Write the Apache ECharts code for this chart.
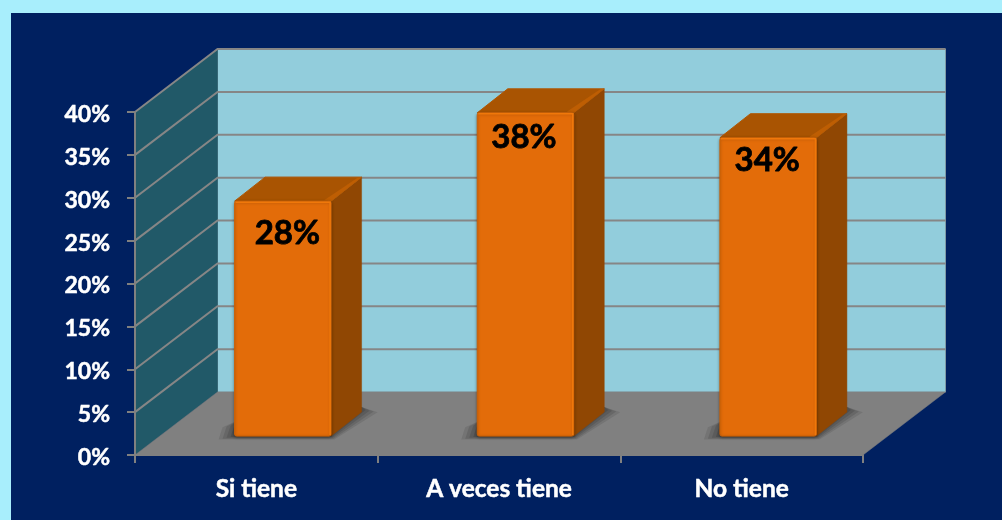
<!DOCTYPE html>
<html>
<head>
<meta charset="utf-8">
<style>html,body{margin:0;padding:0;background:#A6EDFB}#c{width:1002px;height:520px}</style>
<script src="https://cdn.jsdelivr.net/npm/echarts@6/dist/echarts.min.js"></script>
</head>
<body>
<div id="c"></div>
<script>
const categories = ["Si tiene", "A veces tiene", "No tiene"];
const barValues = [27.4, 37.7, 34.8];
const barLabels = ["28%", "38%", "34%"];
const wallTicks = [0, 5, 10, 15, 20, 25, 30, 35, 40];

// layout of the fake 3D room and boxes
const ROOM_DX = 82.5, ROOM_DY = -63;
const BAR_FX = 26.5, BAR_FY = -18.9;   // where a box's front face stands inside the room
const BAR_W = 96.5, BAR_DX = 30.5, BAR_DY = -24;
const LABEL_NUDGE = [[4.5, 32], [-1.5, 25], [-1, 23]];
const SHADOW_RINGS = [[16, 0.14], [12, 0.16], [8, 0.18], [4, 0.22]];
const FONT = 'Lato, "Open Sans", sans-serif';

function poly(points, style, z2) {
  return { type: 'polygon', shape: { points: points }, style: style, z2: z2 || 0, silent: true };
}

function renderRoom(params, api) {
  const t = api.value(1);
  const cs = params.coordSys;
  const y = api.coord([0, t])[1];
  const xL = cs.x, xR = cs.x + cs.width;
  const children = [];
  if (params.dataIndex === 0) {
    const top = cs.y, bot = cs.y + cs.height;
    children.push(poly([[xL + ROOM_DX, top + ROOM_DY], [xR + ROOM_DX, top + ROOM_DY], [xR + ROOM_DX, bot + ROOM_DY], [xL + ROOM_DX, bot + ROOM_DY]],
      { fill: '#92CDDC', stroke: '#7f9aa5', lineWidth: 1 }));
    children.push(poly([[xL, top], [xL + ROOM_DX, top + ROOM_DY], [xL + ROOM_DX, bot + ROOM_DY], [xL, bot]],
      { fill: '#215968', stroke: '#215968', lineWidth: 0.5 }));
    children.push(poly([[xL, bot], [xR, bot], [xR + ROOM_DX, bot + ROOM_DY], [xL + ROOM_DX, bot + ROOM_DY]],
      { fill: '#808080', stroke: '#808080', lineWidth: 0.5 }));
  }
  if (t > 0) {
    const line = { stroke: '#868686', lineWidth: 2, fill: 'none' };
    children.push({ type: 'polyline', z2: 1, silent: true,
      shape: { points: [[xL, y], [xL + ROOM_DX, y + ROOM_DY], [xR + ROOM_DX, y + ROOM_DY]] }, style: line });
  }
  return { type: 'group', children: children };
}

function renderBox(params, api) {
  const i = params.dataIndex;
  const base = api.coord([api.value(0), 0]);
  const head = api.coord([api.value(0), api.value(1)]);
  const cx = base[0] + BAR_FX;
  const l = cx - BAR_W / 2, r = cx + BAR_W / 2;
  const b = base[1] + BAR_FY, t = head[1] + BAR_FY;
  const dx = BAR_DX, dy = BAR_DY;
  const shadows = SHADOW_RINGS.map(function (s) {
    const g = s[0];
    return poly([[l + 4 - g, b - 12 + g * 0.2], [l - g, b + g * 0.22], [r + g * 0.2, b + g * 0.22],
                 [r + dx + g, b + dy + g * 0.2 - 3], [r + dx, b + dy - 5], [l + 4, b + dy + 8]],
      { fill: 'rgba(40,40,40,' + s[1] + ')' }, 1);
  });
  return {
    type: 'group',
    children: shadows.concat([
      poly([[r, t], [r + dx, t + dy], [r + dx, b + dy], [r, b]], { fill: '#904703', stroke: '#904703', lineWidth: 0.5 }, 2),
      poly([[l, t], [l + dx, t + dy], [r + dx, t + dy], [r, t]],
        { fill: '#A95402', stroke: '#B05703', lineWidth: 1, lineJoin: 'round' }, 3),
      poly([[r, t], [r + dx, t + dy], [r + dx - 4, t + dy + 0.5], [r - 7, t - 1]], { fill: '#BE5E03' }, 4),
      { type: 'rect', z2: 5, silent: true, shape: { x: l, y: t, width: BAR_W, height: b - t, r: 2 },
        style: { fill: '#E36C09', stroke: '#CC6207', lineWidth: 1,
          shadowBlur: 3, shadowColor: 'rgba(0,0,0,0.35)', shadowOffsetY: 1 } },
      { type: 'polyline', z2: 6, silent: true,
        shape: { points: [[l + 1, t + 1], [r - 1, t + 1], [r - 1, b - 1]] },
        style: { stroke: '#F0780A', lineWidth: 1.5, fill: 'none' } },
      { type: 'text', z2: 7, silent: true,
        style: { text: barLabels[i], x: cx + LABEL_NUDGE[i][0], y: t + LABEL_NUDGE[i][1],
          align: 'center', verticalAlign: 'middle', fill: '#000', stroke: '#000', lineWidth: 0.8,
          font: 'bold 33px ' + FONT } }
    ])
  };
}

const chart = echarts.init(document.getElementById('c'), null, { renderer: 'canvas' });
chart.setOption({
  animation: false,
  backgroundColor: '#A8EEFC',
  graphic: [{ type: 'rect', z: -10, silent: true, shape: { x: 11, y: 13, width: 991, height: 507 }, style: { fill: '#002060' } }],
  grid: { left: 135, top: 112, width: 728, height: 343 },
  xAxis: {
    type: 'category', data: categories, z: 10,
    axisLine: { lineStyle: { color: '#808080', width: 2 } },
    axisTick: { show: true, alignWithLabel: false, length: 8, lineStyle: { color: '#808080', width: 2 } },
    axisLabel: { color: '#fff', fontFamily: FONT, fontWeight: 'bold', fontSize: 24.5, margin: 22,
      textBorderColor: '#fff', textBorderWidth: 0.5 }
  },
  yAxis: {
    type: 'value', min: 0, max: 40, interval: 5, z: 10,
    axisLine: { show: true, lineStyle: { color: '#808080', width: 2 } },
    axisTick: { show: true, length: 8, lineStyle: { color: '#808080', width: 2 } },
    splitLine: { show: false },
    axisLabel: { margin: 25, formatter: '{a|{value}%}',
      rich: { a: { color: '#fff', fontFamily: FONT, fontWeight: 'bold', fontSize: 23, padding: [5, 0, 0, 0],
        textBorderColor: '#fff', textBorderWidth: 0.5 } } }
  },
  series: [
    { type: 'custom', name: 'room', z: 1, renderItem: renderRoom, encode: { x: 0, y: 1 },
      data: wallTicks.map(function (t) { return [0, t]; }) },
    { type: 'custom', name: 'boxes', z: 2, renderItem: renderBox, encode: { x: 0, y: 1 },
      data: barValues.map(function (v, i) { return [i, v]; }) }
  ]
});
</script>
</body>
</html>
